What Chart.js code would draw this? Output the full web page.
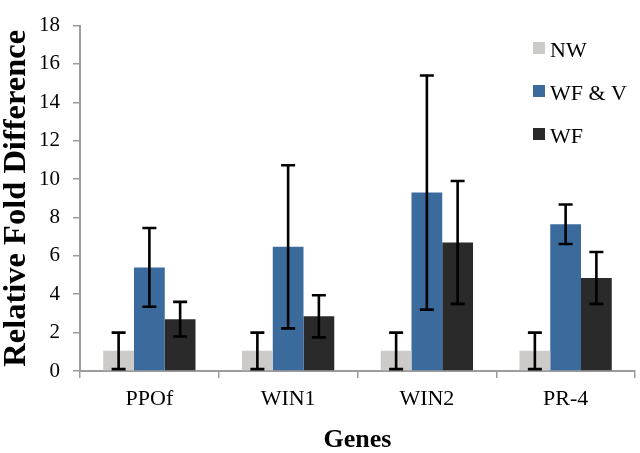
<!DOCTYPE html>
<html>
<head>
<meta charset="utf-8">
<script src="https://cdn.jsdelivr.net/npm/chart.js@4"></script>
<style>
  html, body { margin: 0; padding: 0; background: #fff; }
  #wrap { width: 640px; height: 453px; }
</style>
</head>
<body>
<div id="wrap"><canvas id="grafico"></canvas></div>
<script>
// datos
const genes = ["PPOf", "WIN1", "WIN2", "PR-4"];
const nombresSeries = ["NW", "WF & V", "WF"];
const valoresNW   = [1.05, 1.05, 1.05, 1.05];
const valoresWFV  = [5.4, 6.47, 9.3, 7.65];
const valoresWF   = [2.7, 2.85, 6.7, 4.85];
const errorNW     = [0.95, 0.95, 0.95, 0.95];
const errorWFV    = [2.05, 4.25, 6.1, 1.03];
const errorWF     = [0.9, 1.1, 3.2, 1.35];
const ticksY      = [0, 2, 4, 6, 8, 10, 12, 14, 16, 18];

const colores = ["#cdcbc9", "#3b6a9d", "#2b2a2a"];
const ejeGris = "#9c9c9c";
const fuente = "'Liberation Serif', 'Times New Roman', serif";

// barras de error (valor +- error) con la escala y del grafico
const barrasError = {
  id: "barrasError",
  afterDatasetsDraw(chart) {
    const ctx = chart.ctx;
    const y = chart.scales.y;
    ctx.save();
    ctx.strokeStyle = "#000";
    ctx.lineWidth = 2.6;
    chart.data.datasets.forEach((ds, i) => {
      const meta = chart.getDatasetMeta(i);
      meta.data.forEach((barra, j) => {
        const v = ds.data[j], e = ds.errores[j];
        const yArriba = y.getPixelForValue(v + e);
        const yAbajo = y.getPixelForValue(Math.max(0, v - e));
        const x = barra.x;
        ctx.beginPath();
        ctx.moveTo(x, yArriba); ctx.lineTo(x, yAbajo);
        ctx.moveTo(x - 7, yArriba); ctx.lineTo(x + 7, yArriba);
        ctx.moveTo(x - 7, yAbajo); ctx.lineTo(x + 7, yAbajo);
        ctx.stroke();
      });
    });
    ctx.restore();
  }
};

// leyenda a la derecha, dentro del area
const leyenda = {
  id: "leyenda",
  afterDraw(chart) {
    const ctx = chart.ctx;
    ctx.save();
    ctx.font = "22px " + fuente;
    ctx.textBaseline = "alphabetic";
    ctx.textAlign = "left";
    chart.data.datasets.forEach((ds, i) => {
      const base = 57 + i * 43;
      ctx.fillStyle = ds.backgroundColor;
      ctx.fillRect(533, base - 15, 12, 12);
      ctx.fillStyle = "#000";
      ctx.fillText(ds.label, 550, base);
    });
    ctx.restore();
  }
};

const series = [valoresNW, valoresWFV, valoresWF];
const errores = [errorNW, errorWFV, errorWF];

const datasets = nombresSeries.map((nombre, i) => ({
  label: nombre,
  data: series[i],
  errores: errores[i],
  backgroundColor: colores[i],
  borderWidth: 0,
  categoryPercentage: 0.665,
  barPercentage: 1.0,
}));

new Chart(document.getElementById("grafico"), {
  type: "bar",
  data: { labels: genes, datasets },
  plugins: [barrasError, leyenda],
  options: {
    responsive: true,
    maintainAspectRatio: false,
    animation: false,
    layout: { padding: { top: 10, right: 5, left: 0, bottom: 0 } },
    plugins: {
      legend: { display: false },
      tooltip: { enabled: false },
    },
    scales: {
      x: {
        grid: { display: true, drawOnChartArea: false, drawTicks: true, tickLength: 7, color: ejeGris, lineWidth: 1.5, offset: true },
        border: { display: true, color: ejeGris, width: 2 },
        ticks: { color: "#000", font: { family: fuente, size: 22 }, padding: 8 },
        title: { display: true, text: "Genes", color: "#000", font: { family: fuente, size: 26, weight: "bold", lineHeight: 1 }, padding: { top: 0, bottom: 0 } },
        afterFit(scale) { scale.height = 82; },
      },
      y: {
        min: 0,
        max: 18,
        afterBuildTicks(scale) { scale.ticks = ticksY.map(v => ({ value: v })); },
        grid: { display: true, drawOnChartArea: false, drawTicks: true, tickLength: 7, color: ejeGris, lineWidth: 1.5 },
        border: { display: true, color: ejeGris, width: 2 },
        ticks: { color: "#000", font: { family: fuente, size: 21 }, padding: 13 },
        title: { display: true, text: "Relative Fold Difference", color: "#000", font: { family: fuente, size: 32.5, weight: "bold", lineHeight: 1 }, padding: { top: 0, bottom: 0 } },
        afterFit(scale) { scale.width = 80; },
      },
    },
  },
});
</script>
</body>
</html>
